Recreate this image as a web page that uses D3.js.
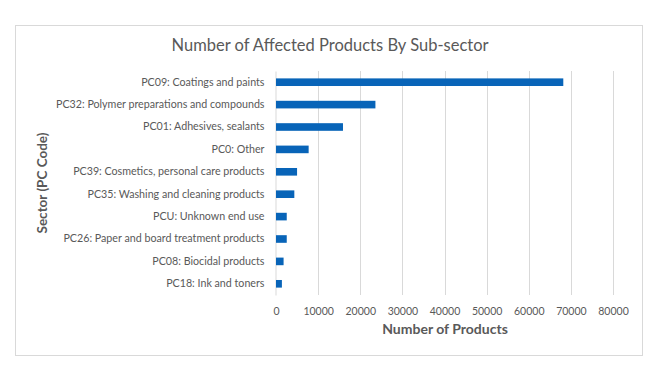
<!DOCTYPE html>
<html>
<head>
<meta charset="utf-8">
<script src="https://cdn.jsdelivr.net/npm/d3@7"></script>
<style>
  body { margin: 0; background: #fff; }
  text { font-family: Lato, "Open Sans", sans-serif; fill: #595959; }
</style>
</head>
<body>
<div id="chart"></div>
<script>
const categories = [
  "PC09: Coatings and paints",
  "PC32: Polymer preparations and compounds",
  "PC01: Adhesives, sealants",
  "PC0: Other",
  "PC39: Cosmetics, personal care products",
  "PC35: Washing and cleaning products",
  "PCU: Unknown end use",
  "PC26: Paper and board treatment products",
  "PC08: Biocidal products",
  "PC18: Ink and toners"
];
const products = [68200, 23600, 15900, 7750, 5000, 4350, 2550, 2550, 1800, 1400];
const xTicks = [0, 10000, 20000, 30000, 40000, 50000, 60000, 70000, 80000];

const width  = 659;
const height = 371;
const margin = { top: 71, right: 46, bottom: 76, left: 276 };

let svg = d3.select("#chart").append("svg")
            .attr("width", width)
            .attr("height", height);

// chart frame
svg.append("rect")
   .attr("x", 15.5).attr("y", 25.5)
   .attr("width", 627).attr("height", 330)
   .attr("fill", "#fff")
   .attr("stroke", "#d9d9d9")
   .attr("stroke-width", 1);

const x = d3.scaleLinear()
            .domain([0, 80000])
            .range([margin.left, width - margin.right]);
const y = d3.scaleBand()
            .domain(categories)
            .range([margin.top, height - margin.bottom])
            .paddingInner(0.66)
            .paddingOuter(0.33);

// gridlines
svg.append("g")
   .selectAll("line")
   .data(xTicks.slice(1))
   .enter().append("line")
   .attr("x1", d => Math.round(x(d)) + 0.5)
   .attr("x2", d => Math.round(x(d)) + 0.5)
   .attr("y1", margin.top)
   .attr("y2", height - margin.bottom)
   .attr("stroke", "#d9d9d9");

// x axis labels
let xAxis = svg.append("g")
   .attr("transform", `translate(0,${height - margin.bottom + 13})`)
   .call(d3.axisBottom(x).tickValues(xTicks).tickSize(0).tickPadding(0).tickFormat(d3.format("d")));
xAxis.select(".domain").remove();
xAxis.selectAll("text").style("font-size", "10.5px").attr("dy", "0.71em");

// y axis
let yAxis = svg.append("g")
   .attr("transform", `translate(${margin.left - 0.5},0)`)
   .call(d3.axisLeft(y).tickSize(0).tickPadding(11));
yAxis.select(".domain").attr("stroke", "#d9d9d9");
yAxis.selectAll("text").style("font-size", "10.7px");

// bars
svg.append("g")
   .selectAll("rect")
   .data(products)
   .enter().append("rect")
   .attr("x", x(0))
   .attr("y", (d, i) => y(categories[i]))
   .attr("width", d => x(d) - x(0))
   .attr("height", y.bandwidth())
   .attr("fill", "#0864b8");

// titles
svg.append("text")
   .attr("x", 330).attr("y", 51)
   .attr("text-anchor", "middle")
   .style("font-size", "16.5px")
   .text("Number of Affected Products By Sub-sector");

svg.append("text")
   .attr("x", 445).attr("y", 334)
   .attr("text-anchor", "middle")
   .style("font-size", "14px")
   .style("font-weight", "bold")
   .text("Number of Products");

svg.append("text")
   .attr("transform", "translate(47,183) rotate(-90)")
   .attr("text-anchor", "middle")
   .style("font-size", "13.5px")
   .style("font-weight", "bold")
   .text("Sector (PC Code)");
</script>
</body>
</html>
